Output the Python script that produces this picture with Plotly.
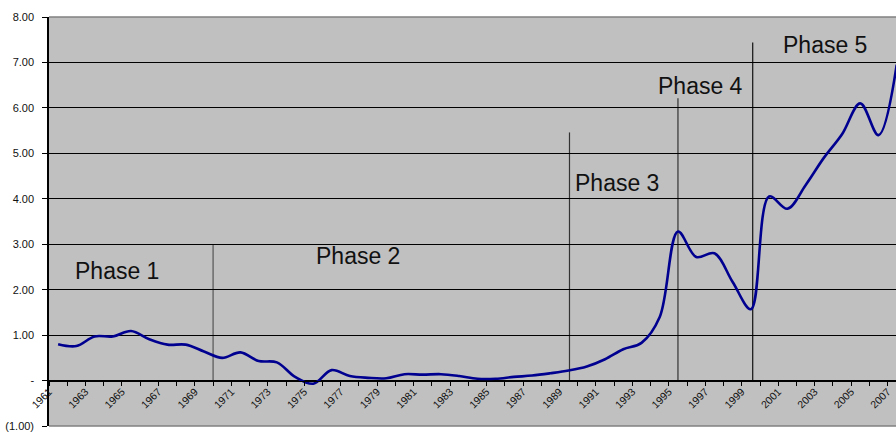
import plotly.graph_objects as go

# ---------------- data ----------------
years = list(range(1961, 2008))
values = [0.80, 0.76, 0.97, 0.97, 1.09, 0.91, 0.79, 0.79, 0.64, 0.50,
          0.62, 0.43, 0.40, 0.08, -0.07, 0.23, 0.10, 0.06, 0.05, 0.14,
          0.13, 0.14, 0.10, 0.04, 0.04, 0.08, 0.11, 0.16, 0.22, 0.31,
          0.47, 0.69, 0.83, 1.40, 3.28, 2.72, 2.80, 2.17, 1.57, 4.05,
          3.78, 4.30, 4.90, 5.42, 6.10, 5.40, 6.95]

label_years = list(range(1961, 2008, 2))
label_text = [str(y) for y in label_years]

y_tick_values = [-1, 0, 1, 2, 3, 4, 5, 6, 7, 8]
y_tick_text = ["(1.00)", "-", "1.00", "2.00", "3.00", "4.00", "5.00", "6.00", "7.00", "8.00"]

phase_names = ["Phase 1", "Phase 2", "Phase 3", "Phase 4", "Phase 5"]
phase_label_x = [1964.23, 1977.45, 1991.66, 1996.21, 2003.07]
phase_label_y = [2.42, 2.73, 4.35, 6.48, 7.38]

phase_boundaries = [1969.5, 1989.05, 1995.0, 1999.1]
phase_line_tops = [3.0, 5.46, 6.21, 7.44]
phase_line_colors = ["#555555", "#333333", "#333333", "#111111"]

# ---------------- figure ----------------
FONT = "Arial, Liberation Sans, sans-serif"
fig = go.Figure()

fig.add_trace(go.Scatter(
    x=years, y=values, mode="lines",
    line=dict(color="#000090", width=2.6, shape="spline", smoothing=1.0),
    hoverinfo="skip", showlegend=False,
))

shapes = []
for bx, top, col in zip(phase_boundaries, phase_line_tops, phase_line_colors):
    shapes.append(dict(type="line", xref="x", yref="y", x0=bx, x1=bx, y0=0, y1=top,
                       line=dict(color=col, width=1.2), layer="below"))
# plot-area border (top & bottom), grey as in the original
for yy in (0, 1):
    shapes.append(dict(type="line", xref="paper", yref="paper", x0=0, x1=1, y0=yy, y1=yy,
                       line=dict(color="#808080", width=1.5), layer="above"))

annotations = []
for name, ax, ay in zip(phase_names, phase_label_x, phase_label_y):
    annotations.append(dict(x=ax, y=ay, xref="x", yref="y", text=name, showarrow=False,
                            xanchor="center", yanchor="middle",
                            font=dict(family=FONT, size=23, color="#111111")))

# label anchored at the left boundary of each year's category (as in Excel)
tickvals_x = [y - 0.5 for y in label_years]
y_min, y_max = -1, 8

fig.update_layout(
    width=896, height=432,
    margin=dict(l=49, r=0, t=17, b=6),
    paper_bgcolor="white",
    plot_bgcolor="#C0C0C0",
    shapes=shapes,
    annotations=annotations,
    showlegend=False,
    xaxis=dict(
        range=[1960.5, 2006.96],
        anchor="free",
        position=(0 - y_min) / (y_max - y_min),
        tickmode="array", tickvals=tickvals_x, ticktext=label_text,
        tickangle=-45, ticks="", showgrid=False, zeroline=False,
        showline=True, linecolor="black", linewidth=1,
        tickfont=dict(family=FONT, size=10.5, color="#111111"),
        minor=dict(tickmode="linear", tick0=1960.5, dtick=1, ticks="outside",
                   ticklen=4, tickcolor="black", tickwidth=1, showgrid=False),
    ),
    yaxis=dict(
        range=[y_min, y_max],
        tickmode="array", tickvals=y_tick_values, ticktext=y_tick_text,
        ticks="outside", ticklen=5, tickcolor="black", tickwidth=1,
        showgrid=True, gridcolor="#000000", gridwidth=1,
        zeroline=True, zerolinecolor="black", zerolinewidth=1,
        showline=True, linecolor="black", linewidth=1.5,
        tickfont=dict(family=FONT, size=11, color="#111111"),
        ticklabelstandoff=6,
    ),
)

fig.write_html("out.html")
